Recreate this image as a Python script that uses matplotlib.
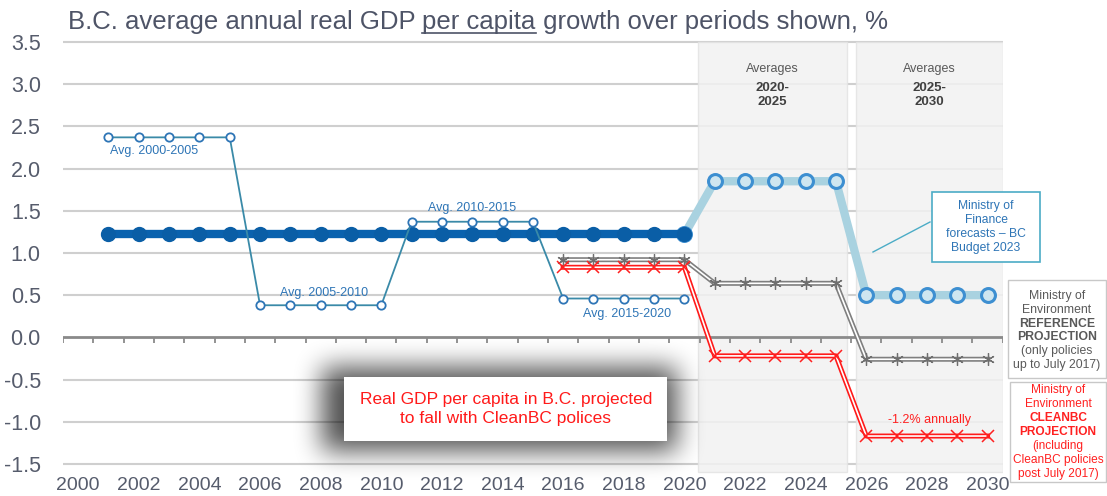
import matplotlib
matplotlib.use('Agg')
import matplotlib.pyplot as plt
import numpy as np
from matplotlib.patches import Rectangle
from matplotlib.lines import Line2D

plt.rcParams['font.family'] = ['Liberation Sans', 'DejaVu Sans']

# ---- data ----
hist_years = list(range(2001, 2021))
hist_growth = [1.22, 1.22, 1.22, 1.22, 1.22, 1.22, 1.22, 1.22, 1.22, 1.22,
               1.22, 1.22, 1.22, 1.22, 1.22, 1.22, 1.22, 1.22, 1.22, 1.22]

avg_years = list(range(2001, 2021))
avg_growth = [2.37, 2.37, 2.37, 2.37, 2.37,
              0.38, 0.38, 0.38, 0.38, 0.38,
              1.37, 1.37, 1.37, 1.37, 1.37,
              0.46, 0.46, 0.46, 0.46, 0.46]
avg_labels = ['Avg. 2000-2005', 'Avg. 2005-2010', 'Avg. 2010-2015', 'Avg. 2015-2020']

fin_years = list(range(2020, 2031))
fin_growth = [1.22, 1.85, 1.85, 1.85, 1.85, 1.85, 0.50, 0.50, 0.50, 0.50, 0.50]

proj_years = list(range(2016, 2031))
ref_growth = [0.92, 0.92, 0.92, 0.92, 0.92,
              0.64, 0.64, 0.64, 0.64, 0.64,
              -0.26, -0.26, -0.26, -0.26, -0.26]
clean_growth = [0.83, 0.83, 0.83, 0.83, 0.83,
                -0.22, -0.22, -0.22, -0.22, -0.22,
                -1.17, -1.17, -1.17, -1.17, -1.17]

y_ticks = [-1.5, -1.0, -0.5, 0.0, 0.5, 1.0, 1.5, 2.0, 2.5, 3.0, 3.5]
x_ticks = list(range(2000, 2031, 2))
panel_titles = ['2020-\n2025', '2025-\n2030']

W, H = 1107, 496
def fx(px):
    return px / W
def fy(py):
    return 1 - py / H

fig = plt.figure(figsize=(11.07, 4.96), dpi=100)
ax = fig.add_axes([fx(63), fy(474), fx(1002.7) - fx(63), fy(37.8) - fy(474)])
ax.set_xlim(1999.5, 2030.5)
ax.set_ylim(-1.62, 3.55)
for s in ax.spines.values():
    s.set_visible(False)

tick_col = '#565c6c'
ax.set_yticks(y_ticks)
ax.set_yticklabels([f'{v:.1f}' for v in y_ticks], fontsize=15.5, color=tick_col)
ax.set_xticks(x_ticks)
ax.set_xticklabels([str(v) for v in x_ticks], fontsize=14, color=tick_col)
ax.tick_params(axis='both', length=0)
ax.tick_params(axis='y', pad=16)
ax.tick_params(axis='x', pad=2)

for v in y_ticks:
    if v != 0:
        ax.axhline(v, color='#cfcfcf', lw=1.5, zorder=0)

# shaded forecast panels
panels = [(2020.45, 2025.35), (2025.65, 2030.5)]
for (a, b), lab in zip(panels, panel_titles):
    ax.add_patch(Rectangle((a, -1.6), b - a, 5.1, facecolor='#f2f2f2', alpha=0.85,
                           edgecolor='#e3e3e3', lw=1, zorder=1))
    ax.text((a + b) / 2, 3.18, 'Averages', ha='center', va='center', fontsize=9,
            color='#595959', zorder=6)
    ax.text((a + b) / 2, 2.87, lab, ha='center', va='center', fontsize=9.5,
            fontweight='bold', color='#404040', linespacing=1.15, zorder=6)

# zero line with category ticks
ax.axhline(0, color='#8a8a8a', lw=2, zorder=2)
ax.vlines(np.arange(1999.5, 2031), -0.07, 0, color='#8a8a8a', lw=1.3, zorder=2)

# period averages
ax.plot(avg_years, avg_growth, color='#3a8aa8', lw=1.3, marker='o', ms=6,
        mfc='white', mec='#2e75b6', mew=1.3, zorder=5)
ax.text(2002.5, 2.21, avg_labels[0], ha='center', va='center', fontsize=9, color='#2e75b6')
ax.text(2008.1, 0.53, avg_labels[1], ha='center', va='center', fontsize=9, color='#2e75b6')
ax.text(2013.0, 1.53, avg_labels[2], ha='center', va='center', fontsize=9, color='#2e75b6')
ax.text(2018.1, 0.28, avg_labels[3], ha='center', va='center', fontsize=9, color='#2e75b6')

# Ministry of Finance forecast
ax.plot(fin_years, fin_growth, color='#a9d2e0', lw=6, marker='o', ms=10,
        mfc='#cfe6f0', mec='#3d8fd1', mew=2.2, zorder=3)
# historical average
ax.plot(hist_years, hist_growth, color='#0a62ae', lw=6, marker='o', ms=10,
        mfc='#0a5ea6', mec='#0a5ea6', zorder=4)

# Ministry of Environment projections (double lines)
ax.plot(proj_years, ref_growth, color='#7f7f7f', lw=3.6, zorder=6)
ax.plot(proj_years, ref_growth, color='white', lw=1.2, zorder=6)
ax.plot(proj_years, ref_growth, ls='none', marker=(6, 2, 0), ms=9, mec='#6f6f6f',
        mew=0.9, zorder=7)
ax.plot(proj_years, clean_growth, color='#ff1a1a', lw=3.6, zorder=6)
ax.plot(proj_years, clean_growth, color='white', lw=1.2, zorder=6)
ax.plot(proj_years, clean_growth, ls='none', marker='x', ms=8, mec='#ff2020',
        mew=1.1, zorder=7)
ax.text(2028.1, -0.98, '-1.2% annually', ha='center', va='center', fontsize=9, color='#ff2020')

# title with underlined "per capita"
title_col = '#4e5467'
title_parts = ['B.C. average annual real GDP ', 'per capita', ' growth over periods shown, %']
fig.canvas.draw()
r = fig.canvas.get_renderer()
xpos = 68
base = fy(29)
for i, part in enumerate(title_parts):
    t = fig.text(fx(xpos), base, part, fontsize=18.5, color=title_col, va='baseline')
    bb = t.get_window_extent(r)
    if i == 1:
        fig.add_artist(Line2D([bb.x0 / W, bb.x1 / W], [base - 3.5 / H] * 2,
                              color=title_col, lw=1.2))
    xpos = bb.x1

# Finance callout
fig.add_artist(Line2D([fx(930), fx(873)], [fy(222), fy(252)], color='#4bacc6', lw=1))
fig.add_artist(Rectangle((fx(932), fy(262)), fx(1040) - fx(932), fy(192) - fy(262),
                         transform=fig.transFigure, facecolor='white',
                         edgecolor='#4bacc6', lw=1.2))
fig.text(fx(986), fy(227), 'Ministry of\nFinance\nforecasts – BC\nBudget 2023',
         ha='center', va='center', fontsize=8.7, color='#2e75b6', linespacing=1.2)

# reference projection box
fig.add_artist(Rectangle((fx(1008), fy(378)), fx(1106) - fx(1008), fy(280) - fy(378),
                         transform=fig.transFigure, facecolor='white',
                         edgecolor='#c8c8c8', lw=1))
ref_lines = [('Ministry of', 'normal'), ('Environment', 'normal'), ('REFERENCE', 'bold'),
             ('PROJECTION', 'bold'), ('(only policies', 'normal'), ('up to July 2017)', 'normal')]
for k, (s, w) in enumerate(ref_lines):
    fig.text(fx(1057), fy(296 + k * 13.8), s, ha='center', va='center', fontsize=8.8,
             color='#595959', fontweight=w)

# CleanBC projection box
fig.add_artist(Rectangle((fx(1010), fy(482)), fx(1106) - fx(1010), fy(382) - fy(482),
                         transform=fig.transFigure, facecolor='white',
                         edgecolor='#c8c8c8', lw=1))
clean_lines = [('Ministry of', 'normal'), ('Environment', 'normal'), ('CLEANBC', 'bold'),
               ('PROJECTION', 'bold'), ('(including', 'normal'), ('CleanBC policies', 'normal'),
               ('post July 2017)', 'normal')]
for k, (s, w) in enumerate(clean_lines):
    fig.text(fx(1058), fy(390 + k * 14), s, ha='center', va='center', fontsize=8.6,
             color='#ff2020', fontweight=w)

# big message box with a soft blurred shadow
bx0, bx1, by0, by1 = 344, 667, 377, 441
rx0, rx1, ry0, ry1 = 230, 790, 300, 496
mask = np.zeros((ry1 - ry0, rx1 - rx0))
mask[by0 - ry0 - 10:by1 - ry0 + 10, bx0 - rx0 - 22:bx1 - rx0 + 10] = 1.0
kern = np.ones(25) / 25
for _ in range(3):
    mask = np.apply_along_axis(lambda m: np.convolve(m, kern, mode='same'), 0, mask)
    mask = np.apply_along_axis(lambda m: np.convolve(m, kern, mode='same'), 1, mask)
shadow = np.zeros(mask.shape + (4,))
shadow[..., 3] = 0.68 * mask
fig.figimage(shadow, xo=rx0, yo=H - ry1, origin='upper', zorder=2)
fig.add_artist(Rectangle((fx(bx0), fy(by1)), fx(bx1) - fx(bx0), fy(by0) - fy(by1),
                         transform=fig.transFigure, facecolor='white', edgecolor='none',
                         zorder=3))
fig.text(fx(506), fy(409), 'Real GDP per capita in B.C. projected\nto fall with CleanBC polices',
         ha='center', va='center', fontsize=12.5, color='#ff1a1a', linespacing=1.4, zorder=4)

fig.savefig('out.png', dpi=100)
